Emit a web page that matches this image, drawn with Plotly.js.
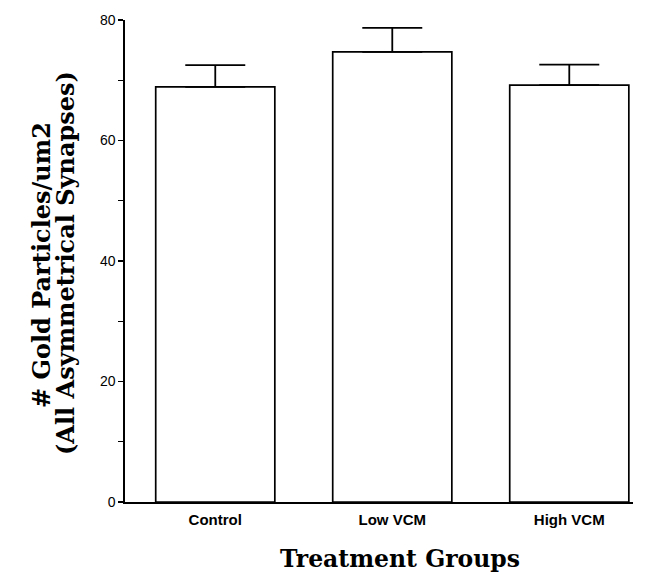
<!DOCTYPE html>
<html>
<head>
<meta charset="utf-8">
<script src="https://cdn.plot.ly/plotly-3.0.1.min.js"></script>
<style>html,body{margin:0;padding:0;background:#fff;}</style>
</head>
<body>
<div id="chart" style="width:655px;height:576px;"></div>
<script>
const categories = ["Control", "Low VCM", "High VCM"];
const values = [68.9, 74.7, 69.2];
const errorsUp = [3.6, 4.0, 3.4];
const errorsDown = [0, 0, 0];
const yTickVals = [0, 20, 40, 60, 80];
const yTickText = ["0", "20", "40", "60", "80"];
const yTitleLines = ["# Gold Particles/um2", "(All Asymmetrical Synapses)"];
const xTitle = "Treatment Groups";

const trace = {
  type: "bar",
  x: categories,
  y: values,
  width: 0.673,
  marker: {color: "#ffffff", line: {color: "#000000", width: 1.7}},
  error_y: {type: "data", array: errorsUp, arrayminus: errorsDown, symmetric: false,
            color: "#000000", thickness: 1.8, width: 30},
  hoverinfo: "none"
};

const titleFont = {family: "DejaVu Serif, serif", size: 24, color: "#000"};

const layout = {
  width: 655, height: 576,
  margin: {l: 125, r: 22, t: 20, b: 74},
  paper_bgcolor: "#ffffff", plot_bgcolor: "#ffffff",
  showlegend: false,
  xaxis: {
    type: "category",
    range: [-0.51, 2.36],
    showline: true, linecolor: "#000", linewidth: 1.6,
    ticks: "", showgrid: false, zeroline: false,
    ticklabelstandoff: 3,
    tickfont: {family: "Liberation Sans, Arial, sans-serif", size: 15, color: "#000", weight: "bold"}
  },
  yaxis: {
    range: [0, 80],
    tickvals: yTickVals, ticktext: yTickText,
    ticks: "outside", ticklen: 5, tickwidth: 1.2, tickcolor: "#000",
    minor: {tickvals: [10, 30, 50, 70], ticks: "outside", ticklen: 5, tickwidth: 1.2, tickcolor: "#000", showgrid: false},
    showline: true, linecolor: "#000", linewidth: 1.6,
    showgrid: false, zeroline: false,
    tickfont: {family: "Liberation Sans, Arial, sans-serif", size: 14, color: "#000"}
  },
  annotations: [
    {text: "<b>" + yTitleLines[0] + "</b>", xref: "paper", yref: "paper",
     x: (41 - 125) / 508, y: (502 - 265) / 482, xanchor: "center", yanchor: "middle",
     textangle: -90, showarrow: false, font: titleFont},
    {text: "<b>" + yTitleLines[1] + "</b>", xref: "paper", yref: "paper",
     x: (65 - 125) / 508, y: (502 - 263) / 482, xanchor: "center", yanchor: "middle",
     textangle: -90, showarrow: false, font: titleFont},
    {text: "<b>" + xTitle + "</b>", xref: "paper", yref: "paper",
     x: (400 - 125) / 508, y: (502 - 559) / 482, xanchor: "center", yanchor: "middle",
     showarrow: false, font: {family: "DejaVu Serif, serif", size: 23.5, color: "#000"}}
  ]
};

Plotly.newPlot("chart", [trace], layout, {displayModeBar: false, staticPlot: true});
</script>
</body>
</html>
